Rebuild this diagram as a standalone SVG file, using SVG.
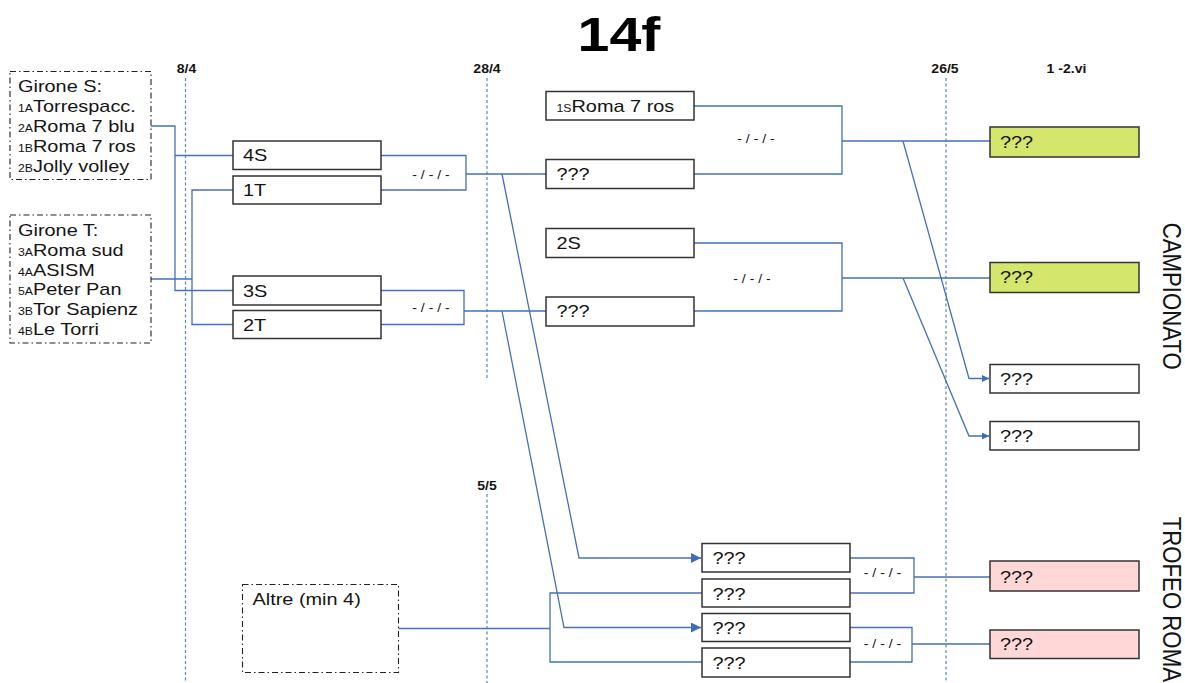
<svg xmlns="http://www.w3.org/2000/svg" width="1185" height="683" viewBox="0 0 1185 683">
<defs>
<style>
.ln{fill:none;stroke:#4472b4;stroke-width:1.3}
.box{fill:#fff;stroke:#333;stroke-width:1.5}
.grn{fill:#d4e66b;stroke:#333;stroke-width:1.5}
.pnk{fill:#ffd7d7;stroke:#333;stroke-width:1.5}
.dd{fill:#fff;stroke:#222;stroke-width:1.1;stroke-dasharray:6 3 1.5 3}
.vl{stroke:#5b84c2;stroke-width:1.2;stroke-dasharray:3 2.5}
text{font-family:"Liberation Sans",Arial,sans-serif;fill:#141414}
.t{font-size:17px}
.s{font-size:10.5px}
.d{font-size:12px;font-weight:bold;text-anchor:middle}
.m{font-size:12px;text-anchor:middle}
.h{font-size:49px;font-weight:bold;text-anchor:middle;fill:#000}
.v{font-size:22.2px}
</style>
<marker id="ab" markerUnits="userSpaceOnUse" markerWidth="11" markerHeight="11" refX="10" refY="5" orient="auto"><path d="M0,0 L10,5 L0,10 z" fill="#3d6db5"/></marker>
<marker id="as" markerUnits="userSpaceOnUse" markerWidth="8" markerHeight="8" refX="7" refY="3.5" orient="auto"><path d="M0,0 L7,3.5 L0,7 z" fill="#3d6db5"/></marker>
</defs>
<rect width="1185" height="683" fill="#fff"/>

<g id="title"><text class="h" transform="matrix(1.17,0,0,1,619,51)">14f</text></g>

<g id="timeline">
<line class="vl" x1="185.5" y1="78" x2="185.5" y2="683"/>
<line class="vl" x1="487" y1="78" x2="487" y2="378"/>
<line class="vl" x1="487" y1="494" x2="487" y2="683"/>
<line class="vl" x1="946" y1="78" x2="946" y2="683"/>
<text class="d" transform="matrix(1.17,0,0,1,186.5,73)">8/4</text>
<text class="d" transform="matrix(1.17,0,0,1,487,73)">28/4</text>
<text class="d" transform="matrix(1.17,0,0,1,945,73)">26/5</text>
<text class="d" transform="matrix(1.17,0,0,1,1066.5,73)">1 -2.vi</text>
<text class="d" transform="matrix(1.17,0,0,1,487,490)">5/5</text>
</g>

<g id="connectors">
<path class="ln" d="M151,126 H175 V290.5 H233 M175,155.5 H233"/>
<path class="ln" d="M151,279 H192 M233,190 H192 V324.5 H233"/>
<path class="ln" d="M381,155.5 H466 V190 H381 M466,174 H546"/>
<path class="ln" d="M381,290.5 H464 V324.5 H381 M464,311 H546"/>
<path class="ln" d="M694,106 H842 V174 H694 M842,141 H990"/>
<path class="ln" d="M694,243 H842 V311 H694 M842,278 H990"/>
<path class="ln" d="M502,174 L579,558 H701" marker-end="url(#ab)"/>
<path class="ln" d="M502,311 L564,627.5 H701" marker-end="url(#ab)"/>
<path class="ln" d="M903,141 L969,378.5 H989" marker-end="url(#as)"/>
<path class="ln" d="M903,278 L969,436 H989" marker-end="url(#as)"/>
<path class="ln" d="M398,628.5 H550 M702,593 H550 V662 H702"/>
<path class="ln" d="M850,558 H914 V593 H850 M914,577 H990"/>
<path class="ln" d="M850,627.5 H912 V662 H850 M912,644 H990"/>
<text class="m" transform="matrix(1.17,0,0,1,431,179)">- / - / -</text>
<text class="m" transform="matrix(1.17,0,0,1,431,312)">- / - / -</text>
<text class="m" transform="matrix(1.17,0,0,1,756,143)">- / - / -</text>
<text class="m" transform="matrix(1.17,0,0,1,752,283)">- / - / -</text>
<text class="m" transform="matrix(1.17,0,0,1,882.5,577)">- / - / -</text>
<text class="m" transform="matrix(1.17,0,0,1,882.5,648)">- / - / -</text>
</g>

<g id="girone-s">
<rect class="dd" x="10" y="71.5" width="141" height="108"/>
<text class="t" transform="matrix(1.17,0,0,1,18,92)">Girone S:</text>
<text class="s" transform="matrix(1.17,0,0,1,18,112)">1A</text><text class="t" transform="matrix(1.17,0,0,1,33,112)">Torrespacc.</text>
<text class="s" transform="matrix(1.17,0,0,1,18,132)">2A</text><text class="t" transform="matrix(1.17,0,0,1,33,132)">Roma 7 blu</text>
<text class="s" transform="matrix(1.17,0,0,1,18,152)">1B</text><text class="t" transform="matrix(1.17,0,0,1,33,152)">Roma 7 ros</text>
<text class="s" transform="matrix(1.17,0,0,1,18,172)">2B</text><text class="t" transform="matrix(1.17,0,0,1,33,172)">Jolly volley</text>
</g>

<g id="girone-t">
<rect class="dd" x="10" y="215" width="141" height="128"/>
<text class="t" transform="matrix(1.17,0,0,1,18,235.5)">Girone T:</text>
<text class="s" transform="matrix(1.17,0,0,1,18,255.5)">3A</text><text class="t" transform="matrix(1.17,0,0,1,33,255.5)">Roma sud</text>
<text class="s" transform="matrix(1.17,0,0,1,18,275.5)">4A</text><text class="t" transform="matrix(1.17,0,0,1,33,275.5)">ASISM</text>
<text class="s" transform="matrix(1.17,0,0,1,18,295)">5A</text><text class="t" transform="matrix(1.17,0,0,1,33,295)">Peter Pan</text>
<text class="s" transform="matrix(1.17,0,0,1,18,315)">3B</text><text class="t" transform="matrix(1.17,0,0,1,33,315)">Tor Sapienz</text>
<text class="s" transform="matrix(1.17,0,0,1,18,335)">4B</text><text class="t" transform="matrix(1.17,0,0,1,33,335)">Le Torri</text>
</g>

<g id="n-4S"><rect class="box" x="233" y="141" width="148" height="28.5"/><text class="t" transform="matrix(1.17,0,0,1,243,161)">4S</text></g>
<g id="n-1T"><rect class="box" x="233" y="176" width="148" height="28"/><text class="t" transform="matrix(1.17,0,0,1,243,196)">1T</text></g>
<g id="n-3S"><rect class="box" x="233" y="276" width="148" height="29"/><text class="t" transform="matrix(1.17,0,0,1,243,297)">3S</text></g>
<g id="n-2T"><rect class="box" x="233" y="310.5" width="148" height="28"/><text class="t" transform="matrix(1.17,0,0,1,243,330.5)">2T</text></g>

<g id="n-1S"><rect class="box" x="546" y="91.5" width="148" height="28.5"/><text class="s" transform="matrix(1.17,0,0,1,556.5,112)">1S</text><text class="t" transform="matrix(1.17,0,0,1,571.5,111.7)">Roma 7 ros</text></g>
<g id="n-q1"><rect class="box" x="546" y="159.5" width="148" height="29"/><text class="t" transform="matrix(1.17,0,0,1,556.5,180)">???</text></g>
<g id="n-2S"><rect class="box" x="546" y="228.5" width="148" height="29"/><text class="t" transform="matrix(1.17,0,0,1,556.5,249)">2S</text></g>
<g id="n-q2"><rect class="box" x="546" y="297" width="148" height="29"/><text class="t" transform="matrix(1.17,0,0,1,556.5,317)">???</text></g>

<g id="n-f1"><rect class="grn" x="990" y="127" width="149" height="30"/><text class="t" transform="matrix(1.17,0,0,1,1000,147.5)">???</text></g>
<g id="n-f2"><rect class="grn" x="990" y="262.5" width="149" height="30"/><text class="t" transform="matrix(1.17,0,0,1,1000,283.3)">???</text></g>
<g id="n-f3"><rect class="box" x="990" y="364.5" width="149" height="28.5"/><text class="t" transform="matrix(1.17,0,0,1,1000,385)">???</text></g>
<g id="n-f4"><rect class="box" x="990" y="421.5" width="149" height="28.5"/><text class="t" transform="matrix(1.17,0,0,1,1000,441.7)">???</text></g>

<g id="n-b1"><rect class="box" x="702" y="543.5" width="148" height="28.5"/><text class="t" transform="matrix(1.17,0,0,1,712.5,564)">???</text></g>
<g id="n-b2"><rect class="box" x="702" y="579" width="148" height="28"/><text class="t" transform="matrix(1.17,0,0,1,712.5,600)">???</text></g>
<g id="n-b3"><rect class="box" x="702" y="613.5" width="148" height="28"/><text class="t" transform="matrix(1.17,0,0,1,712.5,634)">???</text></g>
<g id="n-b4"><rect class="box" x="702" y="648" width="148" height="29"/><text class="t" transform="matrix(1.17,0,0,1,712.5,669)">???</text></g>

<g id="n-p1"><rect class="pnk" x="990" y="561" width="149" height="30"/><text class="t" transform="matrix(1.17,0,0,1,1000,583.3)">???</text></g>
<g id="n-p2"><rect class="pnk" x="990" y="630" width="149" height="28.5"/><text class="t" transform="matrix(1.17,0,0,1,1000,650)">???</text></g>

<g id="altre"><rect class="dd" x="242.5" y="584.5" width="156" height="88"/><text class="t" transform="matrix(1.17,0,0,1,252.5,605)">Altre (min 4)</text></g>

<g id="sections">
<text class="v" transform="translate(1163,222.7) rotate(90) scale(1,1.17)">CAMPIONATO</text>
<text class="v" transform="translate(1163,516.7) rotate(90) scale(1,1.17)">TROFEO ROMA</text>
</g>
</svg>
